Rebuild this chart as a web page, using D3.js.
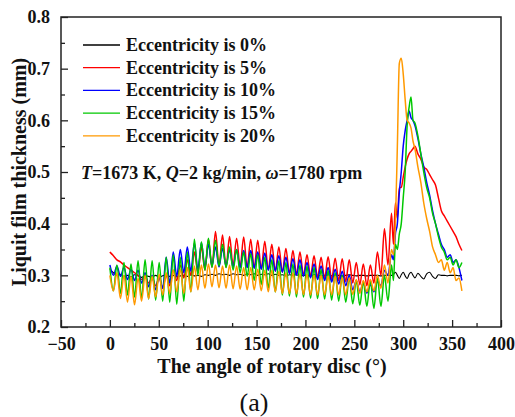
<!DOCTYPE html>
<html>
<head>
<meta charset="utf-8">
<script src="https://cdn.jsdelivr.net/npm/d3@7"></script>
<style>
  body { margin: 0; background: #fff; }
  svg text { font-family: "Liberation Serif", "DejaVu Serif", serif; }
</style>
</head>
<body>
<div id="chart"></div>
<script>
// film thickness vs rotary disc angle

// angles: fine oscillation grid up to 288 deg, then the peak region
const angles = d3.range(0, 288.1, 3.6).concat([290, 292, 294, 296, 298, 300, 302, 304, 306, 308, 310, 312,
  315, 318, 321, 324, 327, 330, 333, 336, 339, 342, 345, 348, 351, 354, 357, 360]);

const seriesNames = ["Eccentricity is 0%", "Eccentricity is 5%", "Eccentricity is 10%",
  "Eccentricity is 15%", "Eccentricity is 20%"];
const seriesColors = ["#000000", "#ff0000", "#0000ff", "#00c800", "#ff9900"];

const ecc0 = [0.312, 0.305, 0.300, 0.302, 0.298, 0.300, 0.297, 0.301, 0.299, 0.296,
  0.300, 0.298, 0.297, 0.300, 0.296, 0.299, 0.301, 0.298, 0.300, 0.297,
  0.299, 0.300, 0.298, 0.301, 0.299, 0.300, 0.298, 0.301, 0.300, 0.302,
  0.300, 0.303, 0.301, 0.302, 0.300, 0.303, 0.301, 0.302, 0.300, 0.303,
  0.301, 0.303, 0.300, 0.302, 0.301, 0.303, 0.300, 0.302, 0.300, 0.301,
  0.299, 0.301, 0.300, 0.301, 0.299, 0.300, 0.300, 0.299, 0.301, 0.300,
  0.299, 0.300, 0.301, 0.299, 0.300, 0.300, 0.299, 0.300, 0.301, 0.300,
  0.299, 0.300, 0.300, 0.299, 0.300, 0.300, 0.300, 0.299, 0.300, 0.300,
  0.300,
  0.302, 0.306, 0.300, 0.294, 0.301, 0.306, 0.299, 0.294, 0.302, 0.306, 0.300, 0.295,
  0.304, 0.298, 0.293, 0.303, 0.306, 0.298, 0.294, 0.301, 0.300, 0.300, 0.299, 0.300,
  0.300, 0.300, 0.299, 0.300];

const ecc5 = [0.345, 0.338, 0.330, 0.326, 0.320, 0.315, 0.310, 0.305, 0.300, 0.292,
  0.298, 0.285, 0.295, 0.280, 0.295, 0.275, 0.300, 0.280, 0.310, 0.290,
  0.320, 0.295, 0.330, 0.300, 0.345, 0.305, 0.355, 0.310, 0.370, 0.315,
  0.385, 0.318, 0.378, 0.315, 0.375, 0.318, 0.372, 0.316, 0.374, 0.315,
  0.370, 0.314, 0.368, 0.312, 0.366, 0.310, 0.360, 0.308, 0.355, 0.306,
  0.352, 0.304, 0.348, 0.302, 0.345, 0.300, 0.340, 0.298, 0.338, 0.296,
  0.335, 0.294, 0.336, 0.292, 0.333, 0.290, 0.332, 0.288, 0.330, 0.285,
  0.325, 0.282, 0.322, 0.280, 0.320, 0.285, 0.345, 0.300, 0.390, 0.320,
  0.420,
  0.360, 0.440, 0.410, 0.470, 0.470, 0.490, 0.510, 0.525, 0.535, 0.540, 0.545, 0.550,
  0.535, 0.525, 0.510, 0.505, 0.495, 0.485, 0.475, 0.450, 0.425, 0.415, 0.405, 0.395,
  0.385, 0.375, 0.360, 0.348];

const ecc10 = [0.320, 0.300, 0.318, 0.298, 0.315, 0.292, 0.312, 0.290, 0.310, 0.285,
  0.305, 0.278, 0.300, 0.272, 0.298, 0.275, 0.335, 0.285, 0.345, 0.298,
  0.350, 0.305, 0.355, 0.308, 0.362, 0.312, 0.363, 0.315, 0.360, 0.318,
  0.355, 0.316, 0.352, 0.318, 0.350, 0.316, 0.350, 0.315, 0.348, 0.315,
  0.348, 0.314, 0.345, 0.312, 0.343, 0.310, 0.340, 0.308, 0.338, 0.306,
  0.335, 0.303, 0.332, 0.300, 0.330, 0.298, 0.325, 0.295, 0.322, 0.292,
  0.318, 0.290, 0.315, 0.287, 0.312, 0.283, 0.308, 0.280, 0.300, 0.272,
  0.290, 0.268, 0.285, 0.266, 0.282, 0.268, 0.288, 0.280, 0.310, 0.300,
  0.340,
  0.330, 0.380, 0.400, 0.460, 0.500, 0.550, 0.580, 0.600, 0.618, 0.605, 0.600, 0.590,
  0.565, 0.535, 0.510, 0.480, 0.455, 0.425, 0.400, 0.380, 0.360, 0.350, 0.335, 0.340,
  0.325, 0.330, 0.315, 0.290];

const ecc15 = [0.315, 0.270, 0.320, 0.265, 0.325, 0.262, 0.322, 0.258, 0.328, 0.255,
  0.330, 0.254, 0.328, 0.252, 0.325, 0.250, 0.335, 0.248, 0.340, 0.244,
  0.335, 0.250, 0.345, 0.268, 0.370, 0.300, 0.365, 0.310, 0.372, 0.315,
  0.368, 0.318, 0.360, 0.315, 0.355, 0.310, 0.350, 0.305, 0.345, 0.298,
  0.342, 0.290, 0.340, 0.282, 0.335, 0.275, 0.330, 0.268, 0.328, 0.262,
  0.325, 0.260, 0.322, 0.258, 0.320, 0.258, 0.318, 0.256, 0.315, 0.255,
  0.312, 0.254, 0.310, 0.252, 0.305, 0.250, 0.300, 0.248, 0.295, 0.245,
  0.290, 0.242, 0.288, 0.240, 0.290, 0.236, 0.295, 0.240, 0.300, 0.250,
  0.320,
  0.290, 0.360, 0.350, 0.380, 0.400, 0.450, 0.500, 0.590, 0.625, 0.645, 0.600, 0.595,
  0.570, 0.535, 0.500, 0.470, 0.450, 0.420, 0.400, 0.375, 0.355, 0.345, 0.330, 0.335,
  0.320, 0.330, 0.315, 0.325];

const ecc20 = [0.300, 0.270, 0.305, 0.255, 0.300, 0.248, 0.298, 0.243, 0.295, 0.250,
  0.300, 0.255, 0.298, 0.258, 0.302, 0.262, 0.305, 0.265, 0.310, 0.268,
  0.312, 0.265, 0.315, 0.268, 0.318, 0.272, 0.320, 0.275, 0.322, 0.278,
  0.320, 0.276, 0.318, 0.275, 0.320, 0.274, 0.318, 0.273, 0.315, 0.272,
  0.315, 0.272, 0.312, 0.270, 0.310, 0.268, 0.310, 0.268, 0.308, 0.265,
  0.305, 0.265, 0.305, 0.264, 0.303, 0.263, 0.302, 0.262, 0.300, 0.262,
  0.300, 0.262, 0.298, 0.262, 0.298, 0.262, 0.296, 0.262, 0.295, 0.263,
  0.292, 0.265, 0.290, 0.268, 0.292, 0.270, 0.300, 0.275, 0.320, 0.285,
  0.350,
  0.340, 0.400, 0.550, 0.710, 0.720, 0.690, 0.640, 0.600, 0.595, 0.585, 0.560, 0.545,
  0.510, 0.480, 0.440, 0.410, 0.385, 0.355, 0.340, 0.325, 0.330, 0.310, 0.325, 0.305,
  0.315, 0.290, 0.295, 0.270];

const seriesValues = [ecc0, ecc5, ecc10, ecc15, ecc20];

const xTicks = [-50, 0, 50, 100, 150, 200, 250, 300, 350, 400];
const yTicks = [0.2, 0.3, 0.4, 0.5, 0.6, 0.7, 0.8];

const width = 515, height = 417;
const margin = {top: 17, right: 14, bottom: 90, left: 61};
const plotW = width - margin.left - margin.right;
const plotH = height - margin.top - margin.bottom;

const svg = d3.select("#chart").append("svg")
    .attr("width", width)
    .attr("height", height);

const x = d3.scaleLinear().domain([-50, 400]).range([0, plotW]);
const y = d3.scaleLinear().domain([0.2, 0.8]).range([plotH, 0]);

const g = svg.append("g").attr("transform", "translate(" + margin.left + "," + margin.top + ")");

g.append("clipPath").attr("id", "clip")
  .append("rect").attr("width", plotW).attr("height", plotH);

// lines
const line = d3.line()
    .x(function(d, i){ return x(angles[i]); })
    .y(function(d){ return y(d); })
    .curve(d3.curveMonotoneX);

const lines = g.append("g").attr("clip-path", "url(#clip)");
seriesValues.forEach(function(vals, k){
  lines.append("path")
    .attr("d", line(vals))
    .attr("fill", "none")
    .attr("stroke", seriesColors[k])
    .attr("stroke-width", k === 0 ? 1.1 : 1.5)
    .attr("stroke-linejoin", "round");
});

// axes, ticks inward
const xMinor = d3.range(-25, 400, 50);
const yMinor = d3.range(0.25, 0.8, 0.1);

const xAxis = g.append("g").attr("transform", "translate(0," + plotH + ")")
  .call(d3.axisBottom(x).tickValues(xTicks).tickSize(-7).tickPadding(10).tickFormat(d3.format("d")));
const xAxisMinor = g.append("g").attr("transform", "translate(0," + plotH + ")")
  .call(d3.axisBottom(x).tickValues(xMinor).tickSize(-4).tickFormat(""));
const yAxis = g.append("g")
  .call(d3.axisLeft(y).tickValues(yTicks).tickSize(-7).tickPadding(11).tickFormat(d3.format(".1f")));
const yAxisMinor = g.append("g")
  .call(d3.axisLeft(y).tickValues(yMinor).tickSize(-4).tickFormat(""));

[xAxis, xAxisMinor, yAxis, yAxisMinor].forEach(function(a){
  a.select(".domain").remove();
  a.selectAll("line").attr("stroke", "#222").attr("stroke-width", 1.3);
  a.selectAll("text")
    .attr("font-family", "Liberation Serif")
    .attr("font-weight", "bold")
    .attr("font-size", 18)
    .attr("fill", "#111");
});

// frame
g.append("rect")
  .attr("width", plotW).attr("height", plotH)
  .attr("fill", "none").attr("stroke", "#222").attr("stroke-width", 1.5);

// axis titles
svg.append("text")
  .attr("x", 272).attr("y", 373)
  .attr("text-anchor", "middle")
  .attr("font-weight", "bold").attr("font-size", 20).attr("fill", "#111")
  .text("The angle of rotary disc (°)");

svg.append("text")
  .attr("transform", "translate(26," + (margin.top + plotH / 2) + ") rotate(-90)")
  .attr("text-anchor", "middle")
  .attr("font-weight", "bold").attr("font-size", 20).attr("fill", "#111")
  .text("Liquit film thickness (mm)");

svg.append("text")
  .attr("x", 254).attr("y", 411)
  .attr("text-anchor", "middle")
  .attr("font-size", 26).attr("fill", "#111")
  .text("(a)");

// legend
const legend = svg.append("g").attr("transform", "translate(83,45)");
seriesNames.forEach(function(name, k){
  const row = legend.append("g").attr("transform", "translate(0," + (k * 22.7) + ")");
  row.append("line").attr("x1", 0).attr("x2", 37).attr("y1", 0).attr("y2", 0)
    .attr("stroke", seriesColors[k]).attr("stroke-width", 1.3);
  row.append("text").attr("x", 43).attr("y", 6)
    .attr("font-weight", "bold").attr("font-size", 18).attr("fill", "#111")
    .text(name);
});

// conditions note
const note = svg.append("text").attr("x", 81).attr("y", 179)
  .attr("font-weight", "bold").attr("font-size", 18).attr("fill", "#111");
note.append("tspan").attr("font-style", "italic").text("T");
note.append("tspan").text("=1673 K, ");
note.append("tspan").attr("font-style", "italic").text("Q");
note.append("tspan").text("=2 kg/min, ");
note.append("tspan").attr("font-style", "italic").text("ω");
note.append("tspan").text("=1780 rpm");
</script>
</body>
</html>
